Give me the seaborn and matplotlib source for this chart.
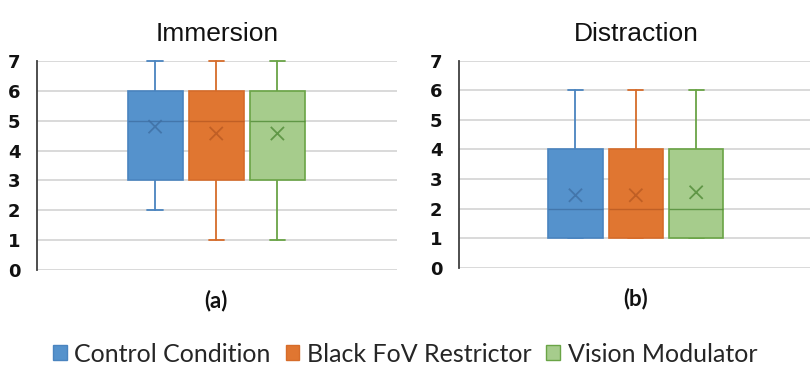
import matplotlib
matplotlib.use("Agg")
import matplotlib.pyplot as plt
from matplotlib.patches import Patch
import pandas as pd
import seaborn as sns

conditions = ["Control Condition", "Black FoV Restrictor", "Vision Modulator"]
fills = ["#5592CC", "#E07631", "#A6CC8C"]
edges = ["#4A84BF", "#D66C2A", "#6AA446"]
darks = ["#3F6FA3", "#B85A22", "#4F8A35"]

panels = ["Immersion", "Distraction"]
letters = ["(a)", "(b)"]
yticks = [0, 1, 2, 3, 4, 5, 6, 7]

# five-number summaries + means
imm_low = [2, 1, 1]
imm_q1 = [3, 3, 3]
imm_med = [5, 5, 5]
imm_q3 = [6, 6, 6]
imm_high = [7, 7, 7]
imm_mean = [4.8, 4.57, 4.57]

dis_low = [1, 1, 1]
dis_q1 = [1, 1, 1]
dis_med = [2, 2, 2]
dis_q3 = [4, 4, 4]
dis_high = [6, 6, 6]
dis_mean = [2.45, 2.45, 2.55]

summaries = [
    (imm_low, imm_q1, imm_med, imm_q3, imm_high, imm_mean),
    (dis_low, dis_q1, dis_med, dis_q3, dis_high, dis_mean),
]

sns.set_theme(style="white")
plt.rcParams["font.family"] = ["Lato", "DejaVu Sans"]

fig = plt.figure(figsize=(8.1, 3.69), dpi=100)
fig.patch.set_facecolor("#fff")
rects = [[0.0457, 0.268, 0.444, 0.567], [0.5667, 0.2745, 0.438, 0.561]]

for rect, title, letter, (lo, q1, med, q3, hi, mean) in zip(rects, panels, letters, summaries):
    ax = fig.add_axes(rect)
    positions = list(range(len(conditions)))
    stats = [
        {"whislo": lo[i], "q1": q1[i], "med": med[i], "q3": q3[i], "whishi": hi[i], "fliers": []}
        for i in positions
    ]
    for y in yticks:
        ax.axhline(y, color="#D9D9D9", linewidth=1.4, zorder=0)

    bp = ax.bxp(stats, positions=positions, widths=0.9, capwidths=0.25,
                patch_artist=True, showfliers=False, manage_ticks=False)
    for i in positions:
        bp["boxes"][i].set(facecolor=fills[i], edgecolor=edges[i], linewidth=1.2, zorder=2)
        bp["medians"][i].set(color=darks[i], linewidth=1.0, alpha=0.8, zorder=3)
        for line in bp["whiskers"][2 * i:2 * i + 2] + bp["caps"][2 * i:2 * i + 2]:
            line.set(color=edges[i], linewidth=1.3, clip_on=False, zorder=1)

    df = pd.DataFrame({"pos": positions, "mean": mean, "cond": conditions})
    sns.scatterplot(data=df, x="pos", y="mean", hue="cond", palette=darks, marker="x",
                    s=90, linewidth=1.3, legend=False, ax=ax, zorder=4, alpha=0.8)

    ax.set_xlim(-1.93, 3.95)
    ax.set_ylim(0, 7)
    ax.set_yticks(yticks, labels=[str(v) for v in yticks], fontweight="bold", fontsize=13,
                  family="DejaVu Sans", color="#111")
    ax.set_xticks([])
    ax.set_xlabel("")
    ax.set_ylabel("")
    for s in ("top", "right", "bottom"):
        ax.spines[s].set_visible(False)
    ax.spines["left"].set_color("#404040")
    ax.spines["left"].set_linewidth(1.3)
    ax.tick_params(axis="y", direction="in", length=5, width=1.3, color="#404040", pad=12)
    ax.set_title(title, fontsize=19, family=["Liberation Sans", "DejaVu Sans"], pad=14, color="#111")
    ax.text(1, -0.095, letter, transform=ax.get_xaxis_transform(), ha="center", va="top",
            fontsize=16, fontweight="bold", color="#111")

handles = [Patch(facecolor=fills[i], edgecolor=edges[i], linewidth=1) for i in range(3)]
fig.legend(handles, conditions, loc="center", bbox_to_anchor=(0.5, 0.04), ncol=3, frameon=False,
           fontsize=18, handlelength=0.55, handleheight=0.55, handletextpad=0.3, columnspacing=0.6)

fig.savefig("out.png", dpi=100, facecolor="#fff")
